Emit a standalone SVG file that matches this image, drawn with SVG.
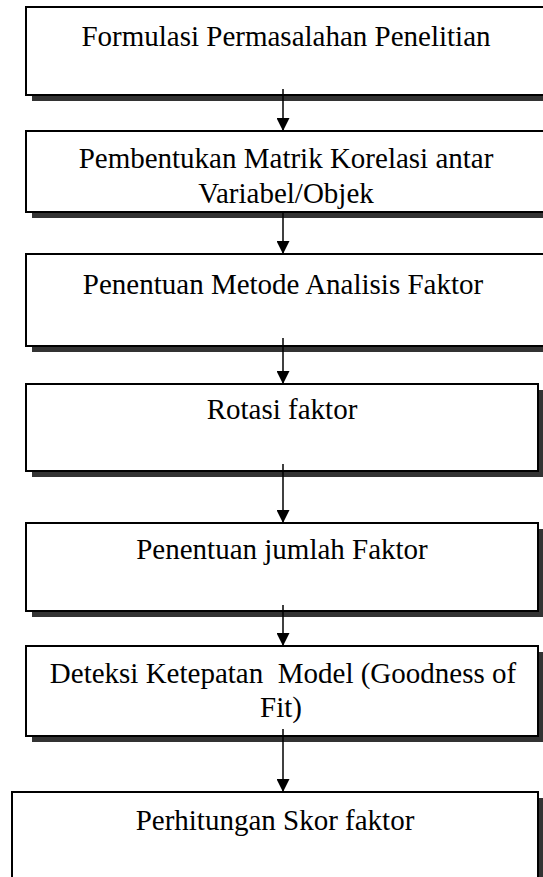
<svg xmlns="http://www.w3.org/2000/svg" width="543" height="877" viewBox="0 0 543 877">
  <defs>
    <marker id="head" markerWidth="13" markerHeight="13" refX="13" refY="6.5" orient="auto" markerUnits="userSpaceOnUse">
      <path d="M0,0 L13,6.5 L0,13 Z" fill="#000"/>
    </marker>
  </defs>
  <style>
    .shadow { fill: #333333; }
    .box { fill: #ffffff; stroke: #000000; stroke-width: 2; }
    .label { font-family: "Liberation Serif", "Times New Roman", serif; font-size: 29px; fill: #000000; text-anchor: middle; white-space: pre; }
    .link { stroke: #000000; stroke-width: 1.5; fill: none; marker-end: url(#head); }
  </style>

  <rect width="543" height="877" fill="#ffffff"/>

  <g id="node-formulasi">
    <rect class="shadow" x="32" y="13" width="520" height="88"/>
    <rect class="box" x="26" y="7" width="520" height="88"/>
    <text class="label" x="286" y="46">Formulasi Permasalahan Penelitian</text>
  </g>

  <g id="node-matrik">
    <rect class="shadow" x="32" y="137" width="520" height="81"/>
    <rect class="box" x="26" y="131" width="520" height="81"/>
    <text class="label" x="286" y="168">Pembentukan Matrik Korelasi antar</text>
    <text class="label" x="286" y="203">Variabel/Objek</text>
  </g>

  <g id="node-metode">
    <rect class="shadow" x="32" y="260" width="520" height="92"/>
    <rect class="box" x="26" y="254" width="520" height="92"/>
    <text class="label" x="283" y="294">Penentuan Metode Analisis Faktor</text>
  </g>

  <g id="node-rotasi">
    <rect class="shadow" x="32" y="390" width="512" height="87"/>
    <rect class="box" x="26" y="384" width="512" height="87"/>
    <text class="label" x="282" y="419">Rotasi faktor</text>
  </g>

  <g id="node-jumlah">
    <rect class="shadow" x="32" y="529" width="512" height="88"/>
    <rect class="box" x="26" y="523" width="512" height="88"/>
    <text class="label" x="282" y="559">Penentuan jumlah Faktor</text>
  </g>

  <g id="node-deteksi">
    <rect class="shadow" x="32" y="652" width="512" height="90"/>
    <rect class="box" x="26" y="646" width="512" height="90"/>
    <text class="label" x="283" y="683" xml:space="preserve">Deteksi Ketepatan  Model (Goodness of</text>
    <text class="label" x="281" y="717">Fit)</text>
  </g>

  <g id="node-skor">
    <rect class="shadow" x="18" y="798" width="526" height="100"/>
    <rect class="box" x="12" y="792" width="526" height="100"/>
    <text class="label" x="275" y="830">Perhitungan Skor faktor</text>
  </g>

  <g id="connectors">
    <line class="link" x1="283" y1="89" x2="283" y2="131"/>
    <line class="link" x1="283" y1="212" x2="283" y2="254"/>
    <line class="link" x1="283" y1="338" x2="283" y2="384"/>
    <line class="link" x1="283" y1="464" x2="283" y2="523"/>
    <line class="link" x1="283" y1="605" x2="283" y2="646"/>
    <line class="link" x1="283" y1="729" x2="283" y2="792"/>
  </g>
</svg>
